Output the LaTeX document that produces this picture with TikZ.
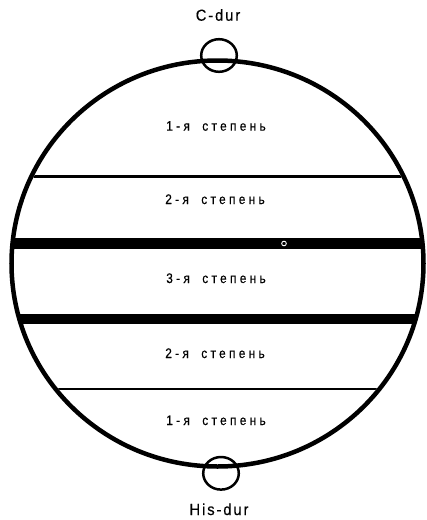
\documentclass[tikz,border=0pt]{standalone}
\usepackage{fontspec}
\setmainfont{Liberation Sans}
\newfontfamily\lblfont[LetterSpace=24,FakeStretch=0.86,FakeBold=0.4]{Liberation Sans}
\newfontfamily\keyfont[LetterSpace=12,FakeStretch=0.92,FakeBold=0.3]{Liberation Sans}
\begin{document}
\begin{tikzpicture}[x=1pt,y=-1pt,
  rim/.style={line width=4.5pt},
  divline/.style={line width=2.2pt},
  boldline/.style={line width=10.5pt},
  keyring/.style={line width=2.5pt},
  lbl/.style={font=\lblfont\fontsize{13.8}{16}\selectfont, inner sep=0pt, anchor=base},
  keylbl/.style={font=\keyfont\fontsize{16}{18}\selectfont, inner sep=0pt, anchor=base}]
\useasboundingbox (0,0) rectangle (427,520);
% bold dividing bands
\begin{scope}
  \clip (217.5,263.5) ellipse [x radius=207pt, y radius=204pt];
  \draw[boldline] (0,243.5) -- (427,243.5);
  \draw[boldline] (0,319) -- (427,319);
\end{scope}
% thin dividing lines
\begin{scope}
  \clip (217.5,263.5) ellipse [x radius=203.5pt, y radius=200.5pt];
  \draw[divline] (0,176.5) -- (427,176.5);
  \draw[divline] (0,389) -- (427,389);
\end{scope}
% outer circle
\draw[rim] (217.5,263.5) ellipse [x radius=206pt, y radius=203pt];
% small mark on band
\draw[white, line width=0.9pt] (284,243.5) circle (2.3pt);
% key rings
\draw[keyring] (219,55.5) ellipse [x radius=17.8pt, y radius=16.3pt];
\draw[keyring] (221,473.3) ellipse [x radius=17.8pt, y radius=16.3pt];
% labels
\node[keylbl] (cdur) at (218,20.7) {C-dur};
\node[keylbl] (hisdur) at (219,515) {His-dur};
\node[lbl] (s1a) at (216,130.7) {1-я\hspace{0.9em}степень};
\node[lbl] (s2a) at (215,204) {2-я\hspace{0.9em}степень};
\node[lbl] (s3) at (216,283) {3-я\hspace{0.9em}степень};
\node[lbl] (s2b) at (215,358) {2-я\hspace{0.9em}степень};
\node[lbl] (s1b) at (216,425) {1-я\hspace{0.9em}степень};
\end{tikzpicture}
\end{document}
